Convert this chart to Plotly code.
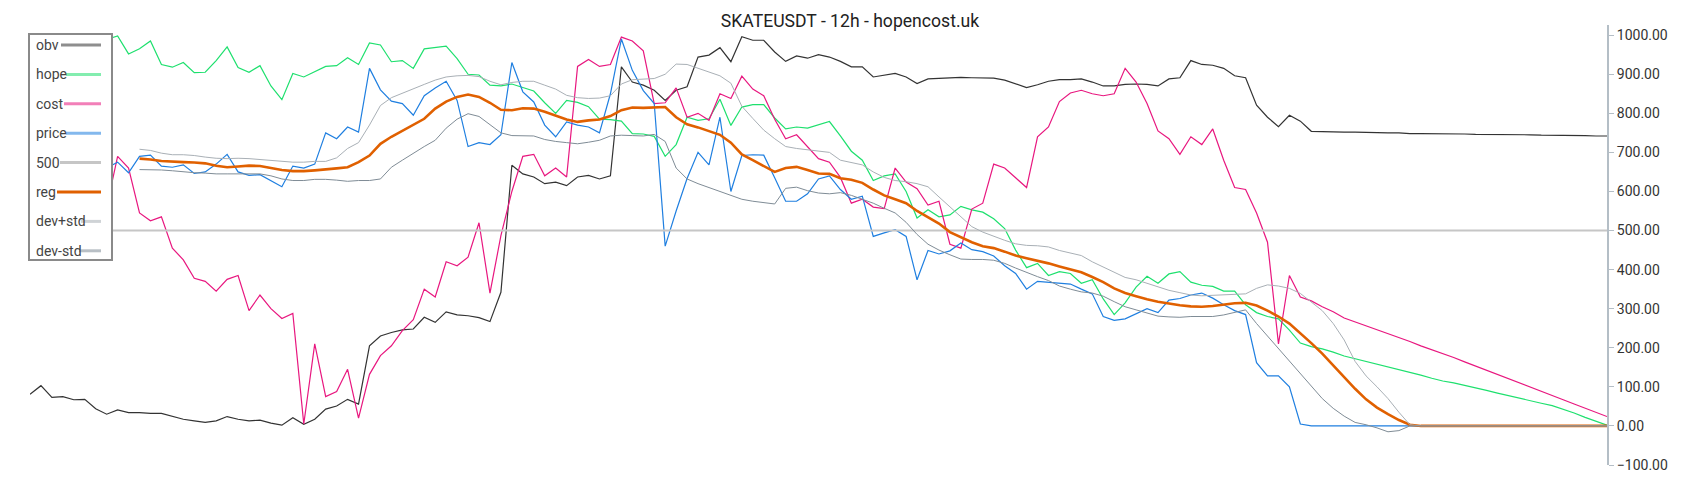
import plotly.graph_objects as go

# bar index (12h candles), every second bar
t = list(range(0, 289, 2))

obv = [
    81, 103, 73, 75, 67, 68, 44, 30, 41, 34,
    34, 32, 32, 24, 17, 13, 9, 13, 24, 17,
    13, 15, 7, 2, 21, 4, 17, 43, 51, 68,
    56, 205, 230, 239, 246, 248, 278, 265, 292, 284,
    282, 277, 267, 342, 667, 645, 637, 620, 624, 615,
    637, 641, 632, 640, 919, 880, 872, 859, 833, 859,
    868, 944, 949, 968, 932, 996, 987, 987, 957, 933,
    947, 941, 950, 944, 933, 919, 919, 893, 897, 902,
    893, 876, 888, 889, 891, 892, 891, 891, 890, 885,
    876, 866, 873, 882, 886, 886, 888, 880, 870, 870,
    874, 875, 874, 870, 888, 891, 935, 925, 923, 915,
    896, 891, 821, 790, 766, 795, 780, 754, 753, 752,
    752, 752, 751, 751, 750, 750, 748, 748, 748, 747,
    747, 747, 746, 746, 746, 745, 745, 745, 744, 744,
    744, 743, 743, 742, 742,
]

hope = [
    985, 990, 980, 995, 985, 990, 980, 988, 998, 952,
    965, 985, 925, 918, 930, 904, 905, 935, 970, 917,
    905, 922, 870, 835, 902, 893, 906, 920, 922, 942,
    925, 980, 975, 932, 935, 915, 965, 968, 972, 940,
    900, 898, 872, 870, 875, 866, 857, 827, 800, 833,
    828, 817, 785, 784, 780, 748, 747, 741, 690, 720,
    790, 782, 786, 836, 769, 816, 822, 822, 788, 760,
    765, 762, 770, 779, 742, 703, 680, 628, 640, 645,
    600, 532, 553, 535, 540, 562, 553, 547, 530, 505,
    450, 405, 416, 385, 395, 390, 365, 374, 325, 285,
    315, 355, 383, 365, 389, 395, 368, 360, 357, 345,
    345, 310, 290, 280, 274, 245, 212, 203, 197, 189,
    179, 172, 165, 158, 151, 145, 138, 130, 122, 115,
    110, 104, 98, 91, 84, 77, 72, 65, 58, 52,
    43, 33, 22, 12, 2,
]

cost = [
    600, 610, 590, 600, 585, 595, 580, 560, 690, 660,
    545, 525, 535, 455, 425, 378, 370, 345, 375, 385,
    295, 335, 300, 275, 288, 5, 210, 75, 88, 145,
    20, 132, 180, 205, 244, 272, 350, 330, 420, 410,
    432, 520, 340, 487, 600, 690, 695, 640, 660, 637,
    920, 938, 920, 925, 995, 985, 960, 825, 827, 865,
    790, 800, 782, 850, 838, 895, 862, 845, 785, 735,
    745, 715, 684, 675, 636, 570, 580, 560, 556, 660,
    624, 607, 565, 575, 465, 455, 555, 570, 670, 660,
    634, 610, 740, 765, 830, 852, 859, 850, 845, 850,
    915, 880, 825, 755, 735, 695, 740, 720, 760, 680,
    610, 605, 545, 470, 210, 385, 330, 320, 305, 292,
    276, 266, 256, 247, 237, 228, 216, 205, 195, 186,
    175, 164, 153, 143, 132, 121, 110, 99, 88, 78,
    67, 56, 45, 35, 24,
]

price = [
    660, 662, 665, 660, 658, 662, 660, 660, 675, 648,
    690, 693, 665, 662, 668, 646, 650, 670, 695, 650,
    641, 643, 628, 612, 665, 660, 670, 750, 735, 765,
    752, 915, 860, 831, 825, 795, 845, 865, 882, 833,
    715, 725, 720, 745, 930, 855, 829, 770, 740, 778,
    770, 765, 750, 850, 990, 910, 858, 825, 460, 550,
    633, 700, 668, 790, 600, 692, 694, 693, 635, 575,
    575, 594, 632, 640, 605, 580, 588, 485, 494, 502,
    485, 374, 449, 440, 448, 468, 451, 446, 435, 410,
    390, 350, 370, 368, 366, 363, 350, 338, 280, 270,
    274, 287, 300, 290, 322, 326, 335, 340, 327, 310,
    295, 285, 162, 128, 128, 100, 5, 0, 0, 0,
    0, 0, 0, 0, 0, 0, 0, 0, 0, 0,
    0, 0, 0, 0, 0, 0, 0, 0, 0, 0,
    0, 0, 0, 0, 0,
]

reg = [
    None, None, None, None, None, None, None, None, None, None,
    684, 682, 678, 676, 675, 674, 672, 666, 662, 664,
    666, 665, 660, 655, 652, 652, 654, 656, 659, 662,
    675, 692, 722, 740, 756, 772, 786, 812, 830, 842,
    848, 842, 827, 809, 808, 813, 812, 804, 793, 784,
    778, 782, 784, 793, 808, 815, 814, 815, 816, 790,
    772, 764, 755, 745, 725, 695, 680, 665, 650, 660,
    663, 655, 646, 645, 634, 630, 622, 605, 590, 580,
    570, 550, 535, 518, 496, 482, 470, 460, 455, 446,
    436, 429, 423, 416, 408, 400, 393, 381, 368, 352,
    340, 332, 324, 318, 313, 309, 306, 305, 307, 310,
    314, 315, 308, 295, 280, 262, 238, 212, 185, 155,
    125, 95, 68, 47, 30, 15, 3, 0, 0, 0,
    0, 0, 0, 0, 0, 0, 0, 0, 0, 0,
    0, 0, 0, 0, 0,
]

dev_plus = [
    None, None, None, None, None, None, None, None, None, None,
    708, 705, 698, 694, 694, 692, 688, 685, 684, 685,
    684, 682, 679, 677, 675, 675, 677, 677, 686, 710,
    725, 770, 820, 840, 852, 862, 874, 885, 893, 896,
    897, 894, 882, 873, 879, 882, 882, 872, 862, 846,
    840, 838, 839, 845, 875, 886, 887, 889, 900, 926,
    925, 915, 906, 896, 877, 818, 787, 757, 735, 715,
    710, 707, 704, 700, 680, 674, 668, 650, 636, 628,
    625, 620, 612, 586, 560, 535, 510, 496, 485, 475,
    466, 462, 461, 458, 449, 442, 436, 420, 406, 392,
    380, 374, 365, 355, 347, 341, 335, 333, 334, 335,
    336, 338, 352, 361, 358, 352, 339, 318, 295, 262,
    220, 165, 128, 100, 70, 35, 3, 0, 0, 0,
    0, 0, 0, 0, 0, 0, 0, 0, 0, 0,
    0, 0, 0, 0, 0,
]

dev_minus = [
    None, None, None, None, None, None, None, None, None, None,
    656, 656, 655, 653, 650, 648, 647, 645, 645, 645,
    645, 645, 640, 632, 628, 628, 631, 631, 629, 626,
    628, 628, 632, 662, 680, 698, 715, 731, 762, 785,
    799, 792, 772, 750, 743, 742, 742, 733, 728, 725,
    722, 726, 731, 742, 744, 743, 742, 746, 728, 660,
    632, 620, 610, 600, 589, 580, 575, 572, 568, 608,
    611, 602, 596, 594, 597, 590, 580, 570, 557, 545,
    521, 490, 465, 450, 438, 427, 426, 426, 424, 416,
    404, 392, 382, 372, 358, 350, 343, 340, 332, 318,
    305, 297, 288, 281, 279, 278, 280, 280, 280, 284,
    291, 297, 262, 230, 198, 165, 135, 102, 70, 45,
    25, 9, 3, -5, -15, -12, 0, 0, 0, 0,
    0, 0, 0, 0, 0, 0, 0, 0, 0, 0,
    0, 0, 0, 0, 0,
]

level_500 = [500] * len(t)

y_ticks = [-100, 0, 100, 200, 300, 400, 500, 600, 700, 800, 900, 1000]

# name, values, line colour, width, legend swatch opacity
series = [
    ("obv", obv, "#333333", 1.2, 0.55),
    ("hope", hope, "#1ee06e", 1.2, 0.55),
    ("cost", cost, "#e8177f", 1.2, 0.55),
    ("price", price, "#1f7fe0", 1.2, 0.55),
    ("500", level_500, "#c6c6c6", 2, 1.0),
    ("reg", reg, "#e06000", 2.6, 1.0),
    ("dev+std", dev_plus, "#a9b0b6", 1, 0.55),
    ("dev-std", dev_minus, "#7f8c96", 1, 0.55),
]

W, H = 1700, 500
ML, MR, MT, MB = 30, 93, 25, 35
PW, PH = W - ML - MR, H - MT - MB


def px_x(px):
    return (px - ML) / PW


def px_y(py):
    return 1 - (py - MT) / PH


fig = go.Figure()
for name, vals, color, width, _ in series:
    fig.add_trace(go.Scatter(
        x=t, y=vals, name=name, mode="lines",
        line=dict(color=color, width=width),
        connectgaps=False, showlegend=False,
    ))

# legend box drawn like the original (label first, swatch after)
shapes = [dict(
    type="rect", xref="paper", yref="paper",
    x0=px_x(29), x1=px_x(112), y0=px_y(260), y1=px_y(34),
    line=dict(color="#8a8a8a", width=2), fillcolor="white", layer="above",
)]
annotations = []
swatch_start = [61, 66, 64, 66, 60, 57, 81, 79]
for k, (name, _, color, _, op) in enumerate(series):
    row_y = 45 + k * 29.4
    annotations.append(dict(
        text=name, xref="paper", yref="paper",
        x=px_x(34), y=px_y(row_y), xanchor="left", yanchor="middle",
        showarrow=False, font=dict(family="Roboto", size=14, color="#444"),
    ))
    shapes.append(dict(
        type="line", xref="paper", yref="paper",
        x0=px_x(swatch_start[k]), x1=px_x(101), y0=px_y(row_y), y1=px_y(row_y),
        line=dict(color=color, width=3), opacity=op, layer="above",
    ))

fig.update_layout(
    width=W, height=H,
    margin=dict(l=ML, r=MR, t=MT, b=MB),
    paper_bgcolor="white", plot_bgcolor="white",
    font=dict(family="Roboto", color="#333"),
    title=dict(text="SKATEUSDT - 12h - hopencost.uk", x=0.5, xref="container",
               y=1 - 21 / H, yref="container", yanchor="middle",
               font=dict(family="Roboto", size=17.6, color="#222")),
    xaxis=dict(visible=False, range=[t[0], t[-1]]),
    yaxis=dict(
        side="right", range=[-100, 1026], tickvals=y_ticks, tickformat=".2f",
        showgrid=False, zeroline=False, showline=True,
        linecolor="#b4bec6", linewidth=2,
        ticks="outside", ticklen=5, tickwidth=1, tickcolor="#b4bec6",
        tickfont=dict(family="Roboto", size=14, color="#333"),
    ),
    shapes=shapes, annotations=annotations,
    showlegend=False,
)

# page default body margin would shift the chart by 8px
fig.write_html("out.html", config={"displayModeBar": False},
               post_script="document.body.style.margin='0';")
